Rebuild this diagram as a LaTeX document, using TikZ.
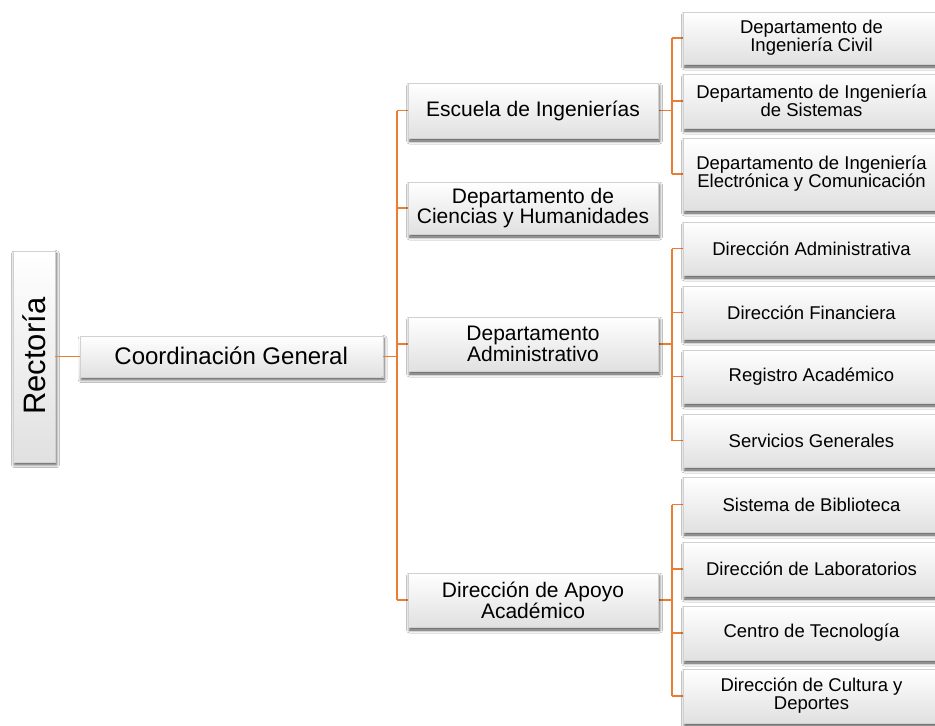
\documentclass[tikz,border=0pt]{standalone}
\usepackage{fontspec}
\setmainfont{Liberation Sans}
\usetikzlibrary{shadows.blur,backgrounds}
\definecolor{linkorange}{RGB}{233,125,52}
\tikzset{
  x=1pt, y=-1pt,
  box/.style={rectangle, draw=black!18, line width=0.4pt, top color=white, bottom color=black!12,
    inner sep=2pt, align=center,
    blur shadow={shadow xshift=1.5pt, shadow yshift=-3pt, shadow blur radius=3pt, shadow opacity=70}},
  midbox/.style={box, minimum width=250pt, minimum height=54pt, font=\fontsize{21}{18.5}\selectfont},
  rbox/.style={box, minimum width=257pt, minimum height=54pt, font=\fontsize{18.5}{18}\selectfont},
  conn/.style={draw=linkorange, line width=1.4pt}
}
\begin{document}
\begin{tikzpicture}
\clip (0,0) rectangle (935,726);

% level 0 and 1
\node[box, minimum width=42pt, minimum height=211pt, inner sep=0pt, font=\fontsize{31}{31}\selectfont] (rectoria) at (34,356.2) {\rotatebox{90}{Rectoría}};
\node[box, minimum width=303pt, minimum height=41pt, font=\fontsize{24}{28}\selectfont] (coordgen) at (231.2,356.2) {Coordinación General};

% level 2
\node[midbox, minimum height=55pt] (esc) at (533,110.5) {Escuela de Ingenierías};
\node[midbox, minimum height=52pt] (cien) at (533,208) {Departamento de\\Ciencias y Humanidades};
\node[midbox] (adm) at (533,344) {Departamento\\Administrativo};
\node[midbox] (apo) at (533,600) {Dirección de Apoyo\\Académico};

% level 3
\node[rbox, minimum height=52pt] (civ) at (811.5,38) {Departamento de\\Ingeniería Civil};
\node[rbox] (sis) at (811.5,101) {Departamento de Ingeniería\\de Sistemas};
\node[rbox, minimum height=72pt] (ele) at (811.5,174) {Departamento de Ingeniería\\Electrónica y Comunicación};

\node[rbox, minimum height=53pt] (dadm) at (811.5,248.5) {Dirección Administrativa};
\node[rbox, minimum height=53pt] (fin) at (811.5,312.5) {Dirección Financiera};
\node[rbox, minimum height=53pt] (reg) at (811.5,376.5) {Registro Académico};
\node[rbox, minimum height=53pt] (ser) at (811.5,440.5) {Servicios Generales};

\node[rbox, minimum height=55pt] (bib) at (811.5,504.5) {Sistema de Biblioteca};
\node[rbox] (lab) at (811.5,569) {Dirección de Laboratorios};
\node[rbox] (cen) at (811.5,633) {Centro de Tecnología};
\node[rbox] (cul) at (811.5,696) {Dirección de Cultura y\\Deportes};

% trunks
\coordinate (tr) at (397,0);
\coordinate (st) at (672,0);

\begin{pgfonlayer}{background}
\fill[white] (0,0) rectangle (935,726);
\draw[conn] (tr |- esc.west) -- (tr |- apo.west);
\foreach \n in {esc,cien,adm,apo} {
  \draw[conn] (\n.west) -- (tr |- \n.west);
}

\draw[conn] (esc.east) -- (st |- esc.east);
\draw[conn] (st |- civ.west) -- (st |- ele.west);
\foreach \n in {civ,sis,ele} { \draw[conn] (\n.west) -- (st |- \n.west); }

\draw[conn] (adm.east) -- (st |- adm.east);
\draw[conn] (st |- dadm.west) -- (st |- ser.west);
\foreach \n in {dadm,fin,reg,ser} { \draw[conn] (\n.west) -- (st |- \n.west); }

\draw[conn] (apo.east) -- (st |- apo.east);
\draw[conn] (st |- bib.west) -- (st |- cul.west);
\foreach \n in {bib,lab,cen,cul} { \draw[conn] (\n.west) -- (st |- \n.west); }
\end{pgfonlayer}

\draw[conn] (rectoria.east) -- (coordgen.west);
\draw[conn] (coordgen.east) -- (tr |- coordgen.east);
\end{tikzpicture}
\end{document}
